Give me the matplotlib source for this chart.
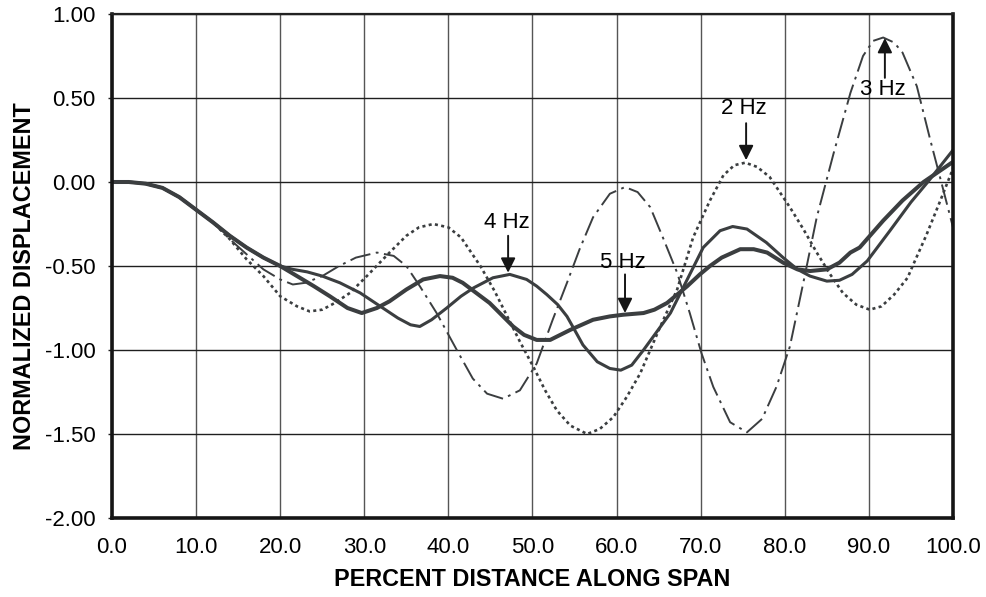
import numpy as np
import matplotlib
matplotlib.use('Agg')
from matplotlib import pyplot as plt

plt.rcParams['font.family'] = ['Liberation Sans', 'DejaVu Sans']
plt.rcParams['axes.unicode_minus'] = False
plt.rcParams['lines.scale_dashes'] = False

# data (percent span, normalized displacement)
x_2hz = [0, 2, 4, 6, 8, 10, 12, 14, 16, 18, 20, 22, 23.5, 25, 26.5, 28.3, 30.3, 33, 35, 36.5,
         38.2, 40, 41.5, 43.8, 45.5, 47, 48.5, 50.1, 51.5, 52.9, 54.5, 56.5, 58, 59.6, 61.2,
         62.8, 65.2, 67.2, 69.1, 71.1, 72.7, 74, 75.3, 76.7, 78.2, 80.6, 82.2, 83.8, 85.4,
         86.9, 88.5, 90.1, 91.5, 93, 94.6, 95.2, 96.8, 98.5, 100]
y_2hz = [0, 0, -0.01, -0.035, -0.09, -0.165, -0.24, -0.34, -0.46, -0.56, -0.68, -0.74, -0.77,
         -0.76, -0.72, -0.66, -0.56, -0.42, -0.32, -0.27, -0.25, -0.27, -0.33, -0.50, -0.65,
         -0.80, -0.95, -1.10, -1.24, -1.36, -1.45, -1.50, -1.47, -1.40, -1.28, -1.14, -0.86,
         -0.64, -0.33, -0.11, 0.04, 0.10, 0.115, 0.09, 0.03, -0.15, -0.28, -0.42, -0.55,
         -0.66, -0.73, -0.76, -0.74, -0.67, -0.57, -0.50, -0.32, -0.11, 0.08]

x_3hz = [0, 2, 4, 6, 8, 10, 12, 14, 16, 18, 20, 21.5, 23, 25, 27, 29, 31.5, 33.5, 35, 36.6,
         38.6, 41, 42.9, 44.6, 46.5, 48.5, 50.5, 52.4, 54.1, 55.6, 57.2, 59.2, 61, 62.5, 64,
         65.5, 67.2, 68.7, 70.1, 71.5, 73.5, 75.5, 77.3, 79, 80.6, 82.2, 83.8, 85.8, 87.8,
         89.3, 90.5, 91.7, 93, 94, 95.7, 97.3, 98.5, 100]
y_3hz = [0, 0, -0.01, -0.035, -0.09, -0.165, -0.24, -0.34, -0.43, -0.52, -0.58, -0.61, -0.60,
         -0.56, -0.50, -0.45, -0.42, -0.44, -0.50, -0.62, -0.78, -1.00, -1.17, -1.26, -1.29,
         -1.24, -1.08, -0.82, -0.60, -0.40, -0.21, -0.07, -0.03, -0.06, -0.15, -0.33, -0.54,
         -0.78, -1.02, -1.22, -1.43, -1.49, -1.41, -1.22, -0.98, -0.60, -0.21, 0.17, 0.53,
         0.75, 0.84, 0.86, 0.83, 0.77, 0.57, 0.25, 0.02, -0.27]

x_4hz = [0, 2, 4, 6, 8, 10, 12, 14, 16, 18, 20, 21.5, 23.2, 25, 27.1, 29.5, 31.9, 34, 35.5,
         36.6, 38, 39.8, 41.5, 43, 45.3, 47.3, 49.3, 50.5, 51.7, 53, 54.1, 55, 56, 57.7, 59.2,
         60.5, 61.8, 63.2, 64.8, 66.4, 68.4, 70.3, 72.3, 73.8, 75.5, 77.8, 79.8, 81.5, 83, 85,
         86.5, 88, 89.8, 92.5, 95, 97, 100]
y_4hz = [0, 0, -0.01, -0.035, -0.09, -0.165, -0.24, -0.32, -0.39, -0.45, -0.50, -0.52, -0.535,
         -0.56, -0.60, -0.66, -0.74, -0.81, -0.85, -0.86, -0.82, -0.75, -0.68, -0.63, -0.57,
         -0.55, -0.58, -0.62, -0.67, -0.73, -0.80, -0.88, -0.97, -1.07, -1.11, -1.12, -1.09,
         -1.00, -0.89, -0.78, -0.58, -0.39, -0.29, -0.265, -0.28, -0.36, -0.45, -0.52, -0.56,
         -0.59, -0.585, -0.55, -0.47, -0.29, -0.12, 0.0, 0.19]

x_5hz = [0, 2, 4, 6, 8, 10, 12, 14, 16, 18, 20, 22, 24, 25.9, 28, 29.7, 31.5, 33, 35, 37, 39,
         40.5, 41.7, 43.3, 44.9, 46.3, 47.7, 49, 50.5, 52.1, 53.3, 54.5, 57.2, 59.2, 60.8, 63.2,
         64.5, 66, 68.4, 69.9, 71.1, 72.5, 74.7, 76.3, 77.9, 79.8, 81.5, 83, 85, 86.5, 87.8,
         88.9, 91.7, 94, 96.5, 100]
y_5hz = [0, 0, -0.01, -0.035, -0.09, -0.165, -0.24, -0.32, -0.39, -0.45, -0.50, -0.56, -0.62,
         -0.68, -0.75, -0.78, -0.75, -0.71, -0.64, -0.58, -0.56, -0.57, -0.60, -0.66, -0.72,
         -0.79, -0.86, -0.91, -0.94, -0.94, -0.91, -0.88, -0.82, -0.80, -0.79, -0.78, -0.76,
         -0.72, -0.62, -0.55, -0.50, -0.45, -0.40, -0.40, -0.42, -0.48, -0.52, -0.53, -0.52,
         -0.48, -0.42, -0.39, -0.23, -0.11, 0.0, 0.12]

labels = ['2 Hz', '3 Hz', '4 Hz', '5 Hz']

curve = '#3b3e40'
fig = plt.figure(figsize=(9.87, 5.97), dpi=100)
ax = fig.add_axes([112/987, 1-518/597, 841/987, 504/597])

ax.plot(x_2hz, y_2hz, color=curve, lw=1.9, dashes=(2.2, 2.4))
ax.plot(x_3hz, y_3hz, color=curve, lw=1.4, dashes=(15, 4, 2, 4))
ax.plot(x_4hz, y_4hz, color=curve, lw=2.2)
ax.plot(x_5hz, y_5hz, color=curve, lw=2.9)

ax.set_xlim(0, 100)
ax.set_ylim(-2.0, 1.0)
ax.set_xticks(np.arange(0, 101, 10))
ax.set_yticks(np.arange(-2.0, 1.01, 0.5))
ax.set_xticklabels(['%.1f' % v for v in np.arange(0, 101, 10)])
ax.set_yticklabels(['%.2f' % v for v in np.arange(-2.0, 1.01, 0.5)])
ax.tick_params(axis='both', labelsize=16, color='#222222')
ax.tick_params(axis='y', length=3, width=1, pad=9)
ax.tick_params(axis='x', length=0, pad=14)

ax.grid(axis='y', color='#1f1f1f', lw=1.0)
ax.grid(axis='x', color='#555555', lw=1.0)
ax.set_axisbelow(True)

for side in ['left', 'bottom', 'right']:
    ax.spines[side].set_linewidth(2.6)
    ax.spines[side].set_color('#151515')
ax.spines['top'].set_linewidth(1.6)
ax.spines['top'].set_color('#222222')

ax.set_xlabel('PERCENT DISTANCE ALONG SPAN', fontsize=16.8, fontweight='bold')
ax.set_ylabel('NORMALIZED DISPLACEMENT', fontsize=16.8, fontweight='bold')
ax.xaxis.set_label_coords(0.5, -0.10)
ax.yaxis.set_label_coords(-0.09, 0.48)

# arrows with labels
arrow = dict(arrowstyle='-|>', color='#151515', lw=1.4, mutation_scale=22, shrinkA=0, shrinkB=0)
ax.annotate('', xy=(75.4, 0.13), xytext=(75.4, 0.35), arrowprops=arrow)
ax.text(75.1, 0.44, labels[0], fontsize=16, ha='center', va='center')
ax.annotate('', xy=(91.9, 0.857), xytext=(91.9, 0.62), arrowprops=arrow)
ax.text(91.7, 0.55, labels[1], fontsize=16, ha='center', va='center')
ax.annotate('', xy=(47.1, -0.54), xytext=(47.1, -0.32), arrowprops=arrow)
ax.text(46.9, -0.24, labels[2], fontsize=16, ha='center', va='center')
ax.annotate('', xy=(61.0, -0.78), xytext=(61.0, -0.55), arrowprops=arrow)
ax.text(60.8, -0.48, labels[3], fontsize=16, ha='center', va='center')

fig.savefig('out.png', dpi=100)
